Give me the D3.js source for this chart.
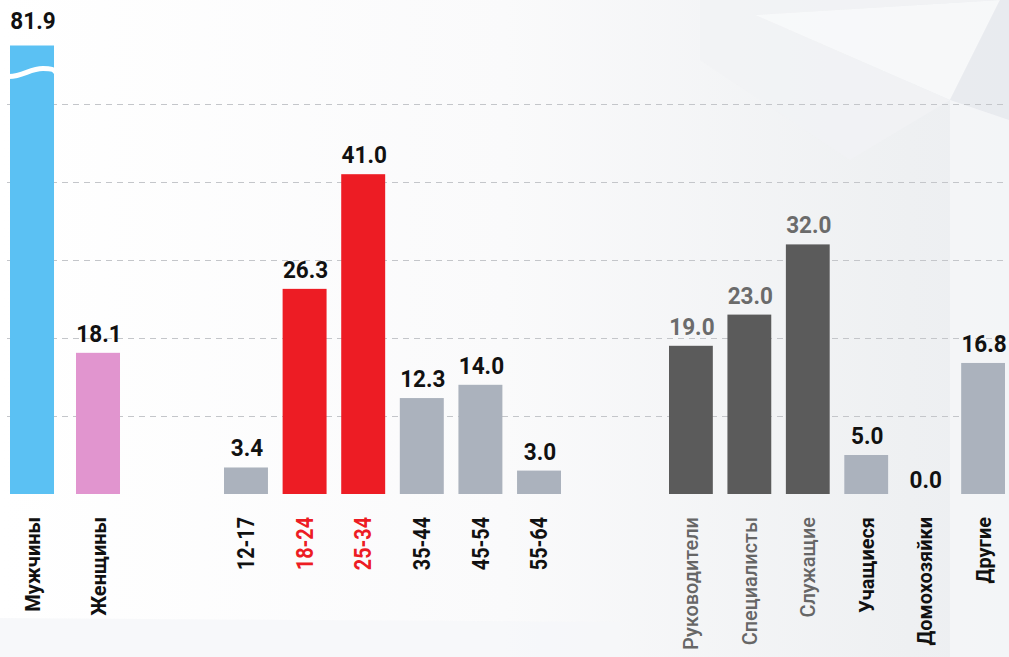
<!DOCTYPE html>
<html><head><meta charset="utf-8">
<script src="https://cdn.jsdelivr.net/npm/d3@7"></script>
<style>html,body{margin:0;padding:0;background:#fff;overflow:hidden}</style>
</head><body>
<svg id="chart" width="1009" height="657"></svg>
<script>
// ---- data ----
const genderCats = ["Мужчины", "Женщины"];
const genderVals = [81.9, 18.1];
const ageCats = ["12-17", "18-24", "25-34", "35-44", "45-54", "55-64"];
const ageVals = [3.4, 26.3, 41.0, 12.3, 14.0, 3.0];
const occCats = ["Руководители", "Специалисты", "Служащие", "Учащиеся", "Домохозяйки", "Другие"];
const occVals = [19.0, 23.0, 32.0, 5.0, 0.0, 16.8];
const gridTicks = [10, 20, 30, 40, 50];

// ---- styles ----
const C = {blue:"#5bc1f3", pink:"#e195cf", red:"#ed1c24", gray:"#abb2bd", dark:"#5b5b5b"};
const barColor = {
  "Мужчины":C.blue, "Женщины":C.pink,
  "18-24":C.red, "25-34":C.red,
  "Руководители":C.dark, "Специалисты":C.dark, "Служащие":C.dark
};
const catLabelColor = {"18-24":C.red, "25-34":C.red, "Руководители":"#666", "Специалисты":"#666", "Служащие":"#666"};
const valLabelColor = {"Руководители":"#6b6b6b", "Специалисты":"#6b6b6b", "Служащие":"#6b6b6b"};
const ageFont = new Set(ageCats);

const svg = d3.select("#chart");
const W = 1009, H = 657;

// background
const defs = svg.append("defs");
const g1 = defs.append("linearGradient").attr("id","bg").attr("x1","0").attr("y1","0").attr("x2","1").attr("y2","0");
g1.append("stop").attr("offset","0").attr("stop-color","#ffffff");
g1.append("stop").attr("offset","0.5").attr("stop-color","#fafafb");
g1.append("stop").attr("offset","0.9").attr("stop-color","#eef0f2");
g1.append("stop").attr("offset","1").attr("stop-color","#eceef1");
svg.append("rect").attr("width",W).attr("height",H).attr("fill","url(#bg)");
const polys = [
  {p:[[755,15],[1000,0],[950,100]], f:"#f8f9fa"},
  {p:[[700,0],[1000,0],[755,15],[950,100],[850,160],[700,60]], f:"#f1f2f4"},
  {p:[[1000,0],[1009,0],[1009,120],[950,100]], f:"#e8eaee"},
  {p:[[950,100],[1009,120],[1009,657],[950,657]], f:"#f5f6f8"},
  {p:[[0,618],[620,622],[620,657],[0,657]], f:"#f6f7f9"}
];
svg.selectAll("polygon.bgp").data(polys).join("polygon").attr("class","bgp")
  .attr("points", d => d.p.map(q => q.join(",")).join(" ")).attr("fill", d => d.f).attr("opacity",0.85);

// scales
const y = d3.scaleLinear().domain([0, 50]).range([494, 104]);
const displayCap = 57.5; // where the broken bar is cut off

// gridlines
svg.selectAll("line.grid").data(gridTicks).join("line").attr("class","grid")
  .attr("x1", 7).attr("x2", 1006)
  .attr("y1", d => Math.round(y(d)) + 0.5).attr("y2", d => Math.round(y(d)) + 0.5)
  .attr("stroke", "#c4c6ca").attr("stroke-width", 1).attr("stroke-dasharray", "6,5");

const groups = [
  {cats: genderCats, vals: genderVals, range: [10, 120], pad: 0.333},
  {cats: ageCats, vals: ageVals, range: [224, 561], pad: 0.25},
  {cats: occCats, vals: occVals, range: [669, 1005], pad: 0.25}
];

groups.forEach(gr => {
  const x = d3.scaleBand().domain(gr.cats).range(gr.range).paddingInner(gr.pad).paddingOuter(0);
  const data = gr.cats.map((c, i) => ({c, v: gr.vals[i]}));
  const g = svg.append("g");
  const top = d => y(Math.min(d.v, displayCap));
  g.selectAll("rect").data(data.filter(d => d.v > 0)).join("rect")
    .attr("x", d => x(d.c)).attr("width", x.bandwidth())
    .attr("y", top).attr("height", d => y(0) - top(d))
    .attr("fill", d => barColor[d.c] || C.gray);
  // break mark for values beyond display range
  data.filter(d => d.v > displayCap).forEach(d => {
    const x0 = x(d.c), w = x.bandwidth(), yb = top(d) + 31;
    g.append("path")
      .attr("d", `M${x0-1},${yb} C${x0+w*0.3},${yb} ${x0+w*0.45},${yb-8} ${x0+w*0.75},${yb-8} S${x0+w},${yb-5.5} ${x0+w+1},${yb-5}`)
      .attr("fill","none").attr("stroke","#fff").attr("stroke-width",5);
  });
  // value labels
  g.selectAll("text.val").data(data).join("text").attr("class","val")
    .attr("transform", d => `translate(${x(d.c) + x.bandwidth()/2 + 1},${top(d) - (d.v > displayCap ? 17 : (d.v === 0 ? 6 : 11))}) scale(0.92,1)`)
    .attr("text-anchor","middle")
    .attr("font-family","Roboto, 'DejaVu Sans', sans-serif").attr("font-weight",700).attr("font-size",24.5)
    .attr("fill", d => valLabelColor[d.c] || "#111")
    .text(d => d.v.toFixed(1));
  // category labels
  g.selectAll("text.cat").data(data).join("text").attr("class","cat")
    .attr("transform", d => `translate(${x(d.c) + x.bandwidth()/2},517) rotate(-90) scale(${ageFont.has(d.c) ? 0.86 : 0.95},1)`)
    .attr("text-anchor","end").attr("dy","0.36em")
    .attr("font-family","Roboto, 'DejaVu Sans', sans-serif")
    .attr("font-weight", d => catLabelColor[d.c] === "#666" ? 500 : 700)
    .attr("font-size", d => ageFont.has(d.c) ? 23 : 21)
    .attr("fill", d => catLabelColor[d.c] || "#111")
    .text(d => d.c);
});
</script>
</body></html>
